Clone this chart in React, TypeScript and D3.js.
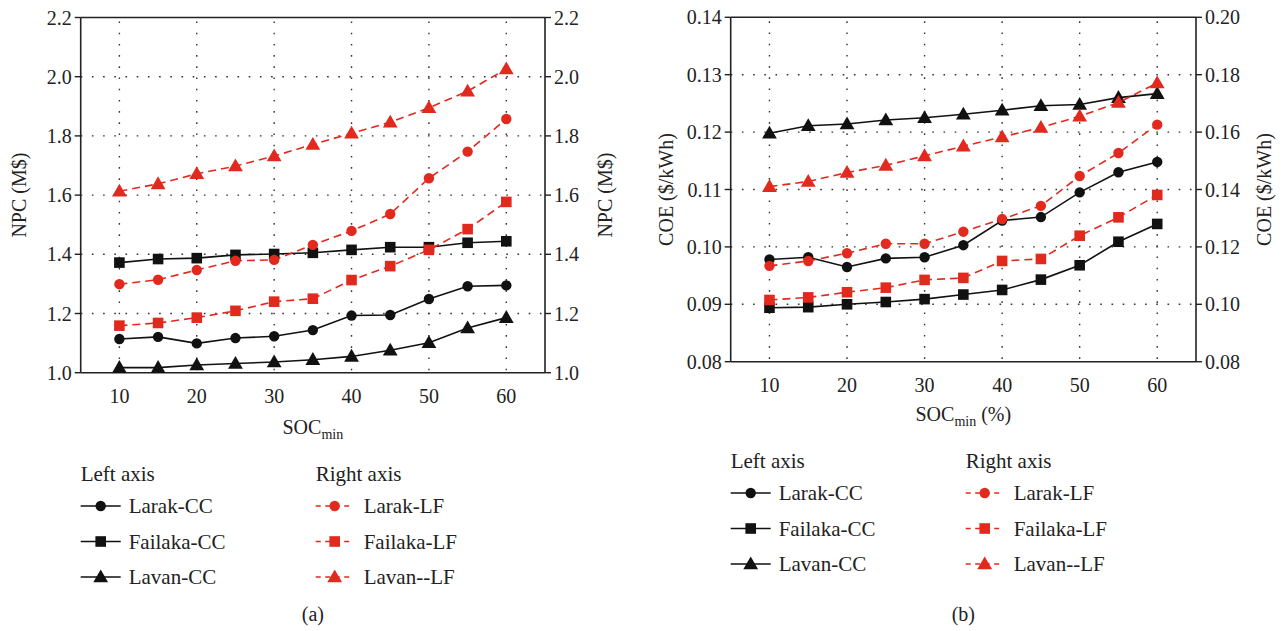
import React from "react";
import * as d3 from "d3";

// ---------- data ----------
const soc = [10, 15, 20, 25, 30, 35, 40, 45, 50, 55, 60];

// Panel (a): NPC (M$)
const npcLarakCC = [1.114, 1.121, 1.099, 1.117, 1.123, 1.144, 1.193, 1.195, 1.249, 1.292, 1.295];
const npcFailakaCC = [1.372, 1.384, 1.387, 1.398, 1.401, 1.405, 1.415, 1.424, 1.424, 1.439, 1.444];
const npcLavanCC = [1.017, 1.017, 1.026, 1.031, 1.036, 1.044, 1.055, 1.076, 1.101, 1.151, 1.186];
const npcLarakLF = [1.299, 1.314, 1.347, 1.378, 1.381, 1.432, 1.479, 1.536, 1.657, 1.747, 1.857];
const npcFailakaLF = [1.159, 1.168, 1.186, 1.209, 1.24, 1.25, 1.313, 1.36, 1.415, 1.485, 1.577];
const npcLavanLF = [1.613, 1.638, 1.672, 1.698, 1.732, 1.771, 1.809, 1.846, 1.895, 1.951, 2.026];

// Panel (b): COE ($/kWh)
const coeLarakCC = [0.0978, 0.0982, 0.0965, 0.098, 0.0982, 0.1003, 0.1046, 0.1052, 0.1095, 0.113, 0.1148];
const coeFailakaCC = [0.0894, 0.0895, 0.09, 0.0904, 0.0909, 0.0917, 0.0925, 0.0943, 0.0968, 0.1009, 0.104];
const coeLavanCC = [0.1198, 0.1211, 0.1214, 0.1221, 0.1225, 0.1231, 0.1238, 0.1246, 0.1248, 0.126, 0.1267];
const coeLarakLF = [0.1134, 0.1151, 0.1178, 0.1211, 0.1211, 0.1253, 0.1297, 0.1343, 0.1447, 0.1527, 0.1626];
const coeFailakaLF = [0.1015, 0.1024, 0.1042, 0.1058, 0.1085, 0.1092, 0.1151, 0.1158, 0.1239, 0.1303, 0.1381];
const coeLavanLF = [0.141, 0.1428, 0.1459, 0.1484, 0.1517, 0.1551, 0.1583, 0.1616, 0.1655, 0.1703, 0.1771];

const xTicks = [10, 20, 30, 40, 50, 60];
const npcTicks = [1.0, 1.2, 1.4, 1.6, 1.8, 2.0, 2.2];
const coeLeftTicks = [0.08, 0.09, 0.1, 0.11, 0.12, 0.13, 0.14];
const coeRightTicks = [0.08, 0.1, 0.12, 0.14, 0.16, 0.18, 0.2];

const legendNames = ["Larak-CC", "Failaka-CC", "Lavan-CC", "Larak-LF", "Failaka-LF", "Lavan--LF"];

// ---------- style ----------
const RED = "#e2291e";
const BLACK = "#111111";
const FONT = "Liberation Serif, DejaVu Serif, Times New Roman, serif";

type Marker = "circle" | "square" | "triangle";

function MarkerShape({ type, x, y, color }: { type: Marker; x: number; y: number; color: string }) {
  if (type === "circle") return <circle cx={x} cy={y} r={5.2} fill={color} />;
  if (type === "square") return <rect x={x - 5.3} y={y - 5.3} width={10.6} height={10.6} fill={color} />;
  const sym = d3.symbol(d3.symbolTriangle, 95)();
  return <path d={sym || ""} transform={`translate(${x},${y + 1})`} fill={color} />;
}

interface Series {
  values: number[];
  marker: Marker;
  axis: "left" | "right";
}

interface PanelProps {
  left: number;
  right: number;
  top: number;
  bottom: number;
  leftDomain: [number, number];
  rightDomain: [number, number];
  leftTicks: number[];
  rightTicks: number[];
  tickFmt: (v: number) => string;
  rightFmt: (v: number) => string;
  yTitle: string;
  xTitleSuffix: string;
  series: Series[];
  legendTop: number;
  label: string;
  labelY: number;
  leftTitleX: number;
  rightTitleX: number;
  xTitleY: number;
}

function Panel(p: PanelProps) {
  const x = d3.scaleLinear().domain([5, 65]).range([p.left, p.right]);
  const yL = d3.scaleLinear().domain(p.leftDomain).range([p.bottom, p.top]);
  const yR = d3.scaleLinear().domain(p.rightDomain).range([p.bottom, p.top]);
  const midY = (p.top + p.bottom) / 2;
  const midX = (p.left + p.right) / 2;

  const gridDash = "1.6,9.6";
  const legendX1 = p.left;
  const legendX2 = p.left + 235;
  const rowGap = 35.5;

  return (
    <g style={{ fontFamily: FONT }} fill="#222">
      {xTicks.map((t) => (
        <line key={"gx" + t} x1={x(t)} x2={x(t)} y1={p.top + 4} y2={p.bottom} stroke="#333" strokeWidth={1.4} strokeDasharray={gridDash} />
      ))}
      {p.leftTicks.slice(1, -1).map((t) => (
        <line key={"gy" + t} x1={p.left} x2={p.right} y1={yL(t)} y2={yL(t)} stroke="#333" strokeWidth={1.4} strokeDasharray={gridDash} />
      ))}
      <line x1={p.left} x2={p.left} y1={p.top} y2={p.bottom} stroke="#222" strokeWidth={1.6} />
      <line x1={p.right} x2={p.right} y1={p.top} y2={p.bottom} stroke="#222" strokeWidth={1.6} />
      <line x1={p.left} x2={p.right} y1={p.top} y2={p.top} stroke="#222" strokeWidth={1.6} />
      <line x1={p.left} x2={p.right} y1={p.bottom} y2={p.bottom} stroke="#222" strokeWidth={1.6} />
      {p.leftTicks.map((t) => (
        <g key={"lt" + t}>
          <line x1={p.left - 6} x2={p.left} y1={yL(t)} y2={yL(t)} stroke="#222" strokeWidth={1.4} />
          <text x={p.left - 9} y={yL(t)} dy="0.35em" textAnchor="end" fontSize={20}>
            {p.tickFmt(t)}
          </text>
        </g>
      ))}
      {p.rightTicks.map((t) => (
        <g key={"rt" + t}>
          <line x1={p.right} x2={p.right + 6} y1={yR(t)} y2={yR(t)} stroke="#222" strokeWidth={1.4} />
          <text x={p.right + 9} y={yR(t)} dy="0.35em" textAnchor="start" fontSize={20}>
            {p.rightFmt(t)}
          </text>
        </g>
      ))}
      {xTicks.map((t) => (
        <text key={"xt" + t} x={x(t)} y={p.bottom + 30} textAnchor="middle" fontSize={20}>
          {t}
        </text>
      ))}
      <text transform={`translate(${p.leftTitleX},${midY}) rotate(-90)`} textAnchor="middle" fontSize={20}>
        {p.yTitle}
      </text>
      <text transform={`translate(${p.rightTitleX},${midY}) rotate(-90)`} textAnchor="middle" fontSize={20}>
        {p.yTitle}
      </text>
      <text x={midX} y={p.xTitleY} textAnchor="middle" fontSize={20}>
        SOC<tspan fontSize={14} dy={5}>min</tspan>
        <tspan dy={-5}>{p.xTitleSuffix}</tspan>
      </text>
      {p.series.map((s, i) => {
        const y = s.axis === "left" ? yL : yR;
        const color = s.axis === "left" ? BLACK : RED;
        const line = d3
          .line<number>()
          .x((_, j) => x(soc[j]))
          .y((v) => y(v));
        return (
          <g key={"s" + i}>
            <path d={line(s.values) || ""} fill="none" stroke={color} strokeWidth={1.6} strokeDasharray={s.axis === "right" ? "8,5" : undefined} />
            {s.values.map((v, j) => (
              <MarkerShape key={j} type={s.marker} x={x(soc[j])} y={y(v)} color={color} />
            ))}
          </g>
        );
      })}
      <text x={legendX1} y={p.legendTop} fontSize={21}>Left axis</text>
      <text x={legendX2} y={p.legendTop} fontSize={21}>Right axis</text>
      {p.series.map((s, i) => {
        const col = s.axis === "left" ? 0 : 1;
        const row = i % 3;
        const x0 = col === 0 ? legendX1 : legendX2;
        const ly = p.legendTop + 25 + row * rowGap;
        const color = col === 0 ? BLACK : RED;
        return (
          <g key={"lg" + i}>
            <line x1={x0} x2={x0 + (col === 0 ? 40 : 35)} y1={ly} y2={ly} stroke={color} strokeWidth={1.6} strokeDasharray={col === 1 ? "5,4.5" : undefined} />
            <MarkerShape type={s.marker} x={x0 + (col === 0 ? 20 : 19)} y={ly} color={color} />
            <text x={x0 + 48} y={ly} dy="0.35em" fontSize={21}>
              {legendNames[i]}
            </text>
          </g>
        );
      })}
      <text x={midX} y={p.labelY} textAnchor="middle" fontSize={20}>
        {p.label}
      </text>
    </g>
  );
}

export default function App() {
  const fmt1 = d3.format(".1f");
  const fmt2 = d3.format(".2f");
  return (
    <svg width={1287} height={631} style={{ position: "absolute", left: 0, top: 0, background: "#fff" }}>
      <rect width={1287} height={631} fill="#fff" />
      <Panel
        left={80.7}
        right={545}
        top={17.5}
        bottom={372.7}
        leftDomain={[1.0, 2.2]}
        rightDomain={[1.0, 2.2]}
        leftTicks={npcTicks}
        rightTicks={npcTicks}
        tickFmt={fmt1}
        rightFmt={fmt1}
        yTitle="NPC (M$)"
        xTitleSuffix=""
        series={[
          { values: npcLarakCC, marker: "circle", axis: "left" },
          { values: npcFailakaCC, marker: "square", axis: "left" },
          { values: npcLavanCC, marker: "triangle", axis: "left" },
          { values: npcLarakLF, marker: "circle", axis: "right" },
          { values: npcFailakaLF, marker: "square", axis: "right" },
          { values: npcLavanLF, marker: "triangle", axis: "right" },
        ]}
        legendTop={481}
        label="(a)"
        labelY={621}
        leftTitleX={26}
        rightTitleX={612}
        xTitleY={434}
      />
      <Panel
        left={730.7}
        right={1196}
        top={17.3}
        bottom={361.7}
        leftDomain={[0.08, 0.14]}
        rightDomain={[0.08, 0.2]}
        leftTicks={coeLeftTicks}
        rightTicks={coeRightTicks}
        tickFmt={fmt2}
        rightFmt={fmt2}
        yTitle="COE ($/kWh)"
        xTitleSuffix=" (%)"
        series={[
          { values: coeLarakCC, marker: "circle", axis: "left" },
          { values: coeFailakaCC, marker: "square", axis: "left" },
          { values: coeLavanCC, marker: "triangle", axis: "left" },
          { values: coeLarakLF, marker: "circle", axis: "right" },
          { values: coeFailakaLF, marker: "square", axis: "right" },
          { values: coeLavanLF, marker: "triangle", axis: "right" },
        ]}
        legendTop={468}
        label="(b)"
        labelY={621}
        leftTitleX={673}
        rightTitleX={1271}
        xTitleY={421}
      />
    </svg>
  );
}
